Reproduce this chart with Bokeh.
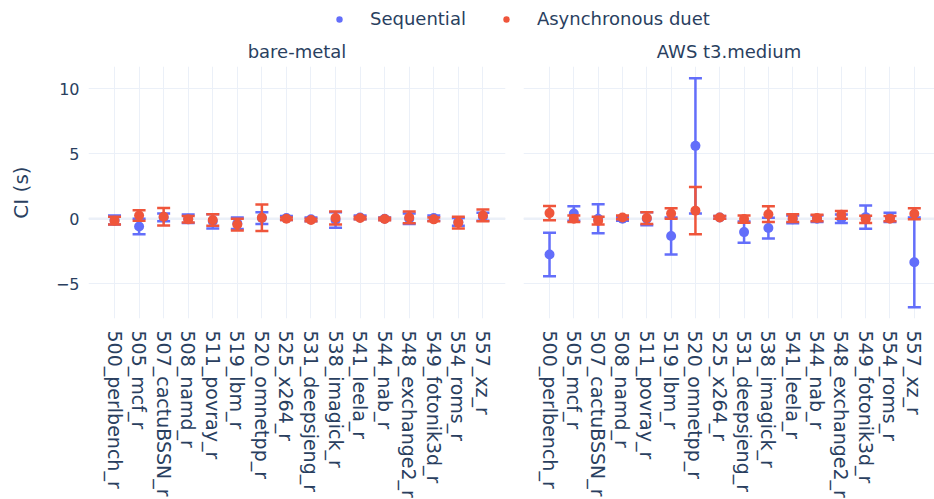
import math
from bokeh.plotting import figure
from bokeh.models import (ColumnDataSource, Range1d, FixedTicker, Span,
                          Legend, LegendItem)
from bokeh.layouts import column, row
from bokeh.embed import file_html
from bokeh.resources import INLINE

# SPEC CPU 2017 benchmarks on the x axis
benchmarks = ["500_perlbench_r", "505_mcf_r", "507_cactuBSSN_r", "508_namd_r",
              "511_povray_r", "519_lbm_r", "520_omnetpp_r", "525_x264_r",
              "531_deepsjeng_r", "538_imagick_r", "541_leela_r", "544_nab_r",
              "548_exchange2_r", "549_fotonik3d_r", "554_roms_r", "557_xz_r"]

# bare-metal: CI centre and half-width (s)
bm_seq_mean = [-0.1, -0.6, 0.1, 0.0, -0.2, -0.35, 0.05, 0.05,
               -0.05, -0.1, 0.1, 0.0, 0.0, 0.05, -0.25, 0.15]
bm_seq_err = [0.35, 0.6, 0.3, 0.33, 0.55, 0.45, 0.45, 0.15,
              0.15, 0.6, 0.15, 0.1, 0.4, 0.2, 0.3, 0.3]
bm_duet_mean = [-0.15, 0.25, 0.15, -0.05, -0.1, -0.45, 0.07, 0.0,
                -0.1, 0.05, 0.05, -0.02, 0.1, -0.05, -0.3, 0.25]
bm_duet_err = [0.3, 0.4, 0.67, 0.25, 0.45, 0.45, 1.02, 0.1,
               0.1, 0.5, 0.1, 0.1, 0.45, 0.15, 0.45, 0.45]

# AWS t3.medium: CI centre and half-width (s)
aws_seq_mean = [-2.75, 0.4, 0.0, 0.0, 0.0, -1.33, 5.6, 0.1,
                -1.03, -0.72, -0.05, 0.0, 0.0, 0.12, 0.1, -3.35]
aws_seq_err = [1.68, 0.55, 1.12, 0.15, 0.5, 1.42, 5.2, 0.1,
               0.82, 0.8, 0.3, 0.25, 0.33, 0.9, 0.35, 3.45]
aws_duet_mean = [0.43, 0.0, -0.15, 0.1, 0.05, 0.4, 0.62, 0.1,
                 -0.03, 0.35, 0.05, 0.05, 0.3, -0.05, 0.0, 0.38]
aws_duet_err = [0.55, 0.25, 0.3, 0.15, 0.45, 0.4, 1.82, 0.1,
                0.28, 0.6, 0.3, 0.25, 0.3, 0.28, 0.2, 0.42]

y_ticks = [-5, 0, 5, 10]

BLUE = "#636efa"
RED = "#ef553b"
TEXT = "#2a3f5f"
GRID = "#ebf0f8"
FONT = "DejaVu Sans"

y_range = Range1d(-7.67, 11.7)
idx = list(range(len(benchmarks)))
labels = {i: name for i, name in enumerate(benchmarks)}


def add_series(p, mean, err, color):
    src = ColumnDataSource(dict(
        x=idx,
        mean=mean,
        lower=[m - e for m, e in zip(mean, err)],
        upper=[m + e for m, e in zip(mean, err)],
    ))
    p.segment(x0="x", y0="lower", x1="x", y1="upper", source=src,
              line_color=color, line_width=2.5)
    p.scatter(x="x", y="upper", marker="dash", size=13, source=src,
              line_color=color, line_width=2.5)
    p.scatter(x="x", y="lower", marker="dash", size=13, source=src,
              line_color=color, line_width=2.5)
    p.scatter(x="x", y="mean", marker="circle", size=10, source=src,
              fill_color=color, line_color=None)


def panel(title, seq_mean, seq_err, duet_mean, duet_err, left, frame_w,
          x_start, x_end):
    p = figure(frame_width=frame_w, frame_height=252,
               x_range=Range1d(x_start, x_end), y_range=y_range,
               y_axis_location="left" if left else None,
               min_border_left=88 if left else 0,
               min_border_right=18 if left else 0,
               min_border_top=36, min_border_bottom=181,
               toolbar_location=None, output_backend="svg",
               background_fill_color="white", border_fill_color="white")
    p.outline_line_color = None

    p.title.text = title
    p.title.align = "center"
    p.title.text_font = FONT
    p.title.text_font_size = "18px"
    p.title.text_font_style = "normal"
    p.title.text_color = TEXT
    p.title.standoff = 9

    p.xaxis.ticker = FixedTicker(ticks=idx)
    p.xaxis.major_label_overrides = labels
    p.xaxis.major_label_orientation = -math.pi / 2
    p.xaxis.major_label_text_font = FONT
    p.xaxis.major_label_text_font_size = "19px"
    p.xaxis.major_label_text_color = TEXT
    p.xaxis.major_label_standoff = 6
    p.xaxis.axis_line_color = None
    p.xaxis.major_tick_line_color = None
    p.xaxis.minor_tick_line_color = None

    p.xgrid.ticker = FixedTicker(ticks=idx)
    p.ygrid.ticker = FixedTicker(ticks=y_ticks)
    p.grid.grid_line_color = GRID
    p.grid.grid_line_width = 1

    if left:
        p.yaxis.ticker = FixedTicker(ticks=y_ticks)
        p.yaxis.major_label_overrides = {-5: "\u22125"}
        p.yaxis.axis_label = "CI (s)"
        p.yaxis.axis_label_text_font = FONT
        p.yaxis.axis_label_text_font_size = "20px"
        p.yaxis.axis_label_text_font_style = "normal"
        p.yaxis.axis_label_text_color = TEXT
        p.yaxis.axis_label_standoff = 20
        p.yaxis.major_label_text_font = FONT
        p.yaxis.major_label_text_font_size = "16px"
        p.yaxis.major_label_text_color = TEXT
        p.yaxis.major_label_standoff = 3
        p.yaxis.axis_line_color = None
        p.yaxis.major_tick_line_color = None
        p.yaxis.minor_tick_line_color = None

    p.add_layout(Span(location=0, dimension="width", line_color=GRID,
                      line_width=2.5, level="underlay"))

    add_series(p, seq_mean, seq_err, BLUE)
    add_series(p, duet_mean, duet_err, RED)
    return p


p1 = panel("bare-metal", bm_seq_mean, bm_seq_err, bm_duet_mean, bm_duet_err,
           True, 417, -1.06, 15.92)
p2 = panel("AWS t3.medium", aws_seq_mean, aws_seq_err, aws_duet_mean,
           aws_duet_err, False, 411, -1.07, 15.83)

# shared legend strip across the top; its glyphs sit outside the strip's range
lf = figure(width=934, height=30, min_border=0, x_range=Range1d(0, 1),
            y_range=Range1d(0, 1), x_axis_location=None, y_axis_location=None,
            toolbar_location=None, output_backend="svg")
lf.grid.visible = False
lf.outline_line_color = None
r_seq = lf.scatter(x=[5], y=[5], marker="circle", size=10, fill_color=BLUE,
                   line_color=None)
r_duet = lf.scatter(x=[5], y=[5], marker="circle", size=10, fill_color=RED,
                    line_color=None)
legend = Legend(items=[LegendItem(label="Sequential", renderers=[r_seq]),
                       LegendItem(label="Asynchronous duet", renderers=[r_duet])],
                orientation="horizontal", location=(331, 1),
                padding=0, margin=0, spacing=32, label_standoff=23,
                glyph_width=16, glyph_height=20, label_height=20,
                label_text_font=FONT, label_text_font_size="18px",
                label_text_color=TEXT, border_line_color=None,
                background_fill_alpha=0)
lf.add_layout(legend, "center")

layout = column(lf, row(p1, p2, spacing=0), spacing=0)
open("out.html", "w").write(file_html(layout, INLINE))
